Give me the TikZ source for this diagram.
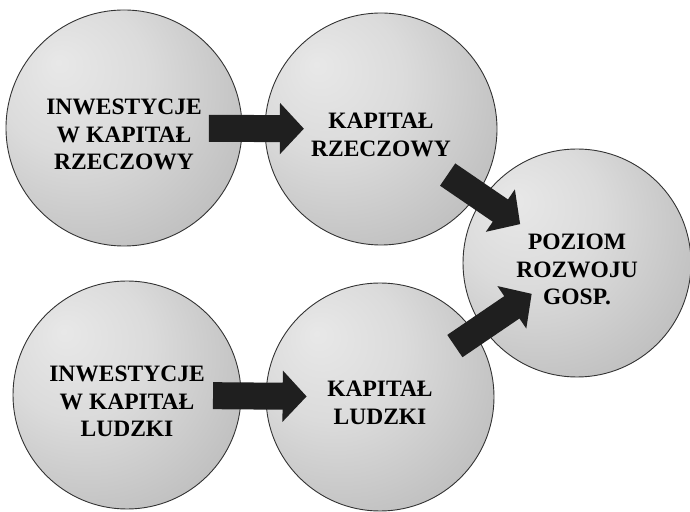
\documentclass[tikz,border=0pt]{standalone}
\usepackage{fontspec}
\setmainfont{Liberation Serif}[BoldFont={Liberation Serif Bold}]
\usetikzlibrary{arrows.meta,calc}
\pgfdeclareradialshading{orb}{\pgfpoint{-14bp}{14bp}}{%
  color(0bp)=(gray!18); color(16bp)=(gray!28); color(36bp)=(gray!50);
  color(50bp)=(gray!68); color(72bp)=(gray!78)}
\begin{document}
\begin{tikzpicture}[x=1pt,y=1pt,
  font=\bfseries\fontsize{23.5}{27.5}\selectfont,
  kula/.style={circle,draw=black!80,line width=0.9pt,shading=orb,
               minimum size=#1,inner sep=0pt,align=center},
  kula/.default=228pt,
  w3/.style={text height=84pt},
  w2/.style={text height=55pt},
  strz/.style={line width=27pt,draw=black!88,
               -{Triangle[length=24pt,width=50pt]}}]
\useasboundingbox (0,0) rectangle (690,511);
% kule
\node[kula=236pt,w3] (irz) at (124,383) {INWESTYCJE\\W KAPITAŁ\\RZECZOWY};
\node[kula=232pt,w2] (krz) at (381,382) {KAPITAŁ\\RZECZOWY};
\node[kula,w3] (poz) at (577,248) {POZIOM\\ROZWOJU\\GOSP.};
\node[kula,w3] (ilu) at (127,116) {INWESTYCJE\\W KAPITAŁ\\LUDZKI};
\node[kula,w2] (klu) at (380,114) {KAPITAŁ\\LUDZKI};
% strzalki
\draw[strz] ($(irz)!0.33!(krz)$) -- ($(irz)!0.70!(krz)$);
\draw[strz] ($(ilu)!0.34!(klu)$) -- ($(ilu)!0.71!(klu)$);
\draw[strz] ($(krz)!0.34!(poz)$) -- ($(krz)!0.71!(poz)$);
\draw[strz] ($(klu)!0.38!(poz)$) -- ($(klu)!0.77!(poz)$);
\end{tikzpicture}
\end{document}
